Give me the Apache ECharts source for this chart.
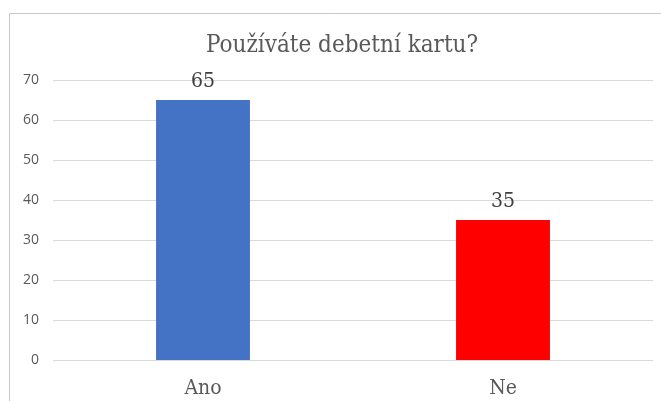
<!DOCTYPE html>
<html>
<head>
<meta charset="utf-8">
<title>Používáte debetní kartu?</title>
<script src="https://cdn.jsdelivr.net/npm/echarts@6/dist/echarts.min.js"></script>
<style>
  html, body { margin: 0; padding: 0; background: #fff; }
  #chart { width: 661px; height: 401px; }
</style>
</head>
<body>
<div id="chart"></div>
<script>
var categories = ['Ano', 'Ne'];
var values = [65, 35];
var barColors = ['#4472C4', '#FF0000'];

var serif = "'DejaVu Serif Condensed', 'DejaVu Serif', serif";

var chart = echarts.init(document.getElementById('chart'));

var option = {
  animation: false,
  backgroundColor: '#fff',
  graphic: [{
    type: 'rect',
    shape: { x: 9.5, y: 13.5, width: 700, height: 420 },
    style: { fill: 'none', stroke: '#c8c8c8', lineWidth: 1 },
    silent: true
  }],
  title: {
    text: 'Používáte debetní kartu?',
    left: 201,
    top: 29,
    textStyle: {
      fontFamily: serif,
      fontSize: 24,
      fontWeight: 'normal',
      color: '#595959'
    }
  },
  grid: {
    left: 53,
    right: 8,
    top: 80,
    bottom: 41,
    containLabel: false
  },
  xAxis: {
    type: 'category',
    data: categories,
    axisLine: { show: false },
    axisTick: { show: false },
    axisLabel: {
      margin: 18,
      fontFamily: serif,
      fontSize: 21,
      color: '#595959'
    }
  },
  yAxis: {
    type: 'value',
    min: 0,
    max: 70,
    interval: 10,
    axisLine: { show: false },
    axisTick: { show: false },
    axisLabel: {
      margin: 14,
      fontFamily: 'Open Sans',
      fontSize: 14,
      color: '#595959'
    },
    splitLine: { lineStyle: { color: '#d9d9d9', width: 1 } }
  },
  series: [{
    type: 'bar',
    data: values.map(function (v, i) {
      return { value: v, itemStyle: { color: barColors[i] } };
    }),
    barWidth: '31.3%',
    label: {
      show: true,
      position: 'top',
      distance: 8,
      fontFamily: serif,
      fontSize: 21,
      color: '#404040'
    }
  }]
};

chart.setOption(option);
</script>
</body>
</html>
